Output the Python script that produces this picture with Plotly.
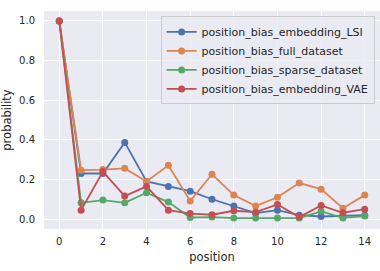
import plotly.graph_objects as go

positions = list(range(15))
lsi = [1.0, 0.23, 0.23, 0.387, 0.19, 0.165, 0.141, 0.10, 0.066, 0.03, 0.045, 0.02, 0.013, 0.015, 0.02]
full = [1.0, 0.247, 0.25, 0.256, 0.19, 0.272, 0.091, 0.226, 0.121, 0.066, 0.11, 0.182, 0.151, 0.055, 0.121]
sparse = [1.0, 0.082, 0.096, 0.082, 0.133, 0.086, 0.008, 0.01, 0.005, 0.005, 0.005, 0.005, 0.039, 0.006, 0.015]
vae = [1.0, 0.045, 0.24, 0.116, 0.165, 0.045, 0.028, 0.022, 0.042, 0.035, 0.074, 0.01, 0.069, 0.032, 0.05]

names = ["position_bias_embedding_LSI", "position_bias_full_dataset",
         "position_bias_sparse_dataset", "position_bias_embedding_VAE"]
colors = ["#4c72b0", "#dd8452", "#55a868", "#c44e52"]

fig = go.Figure()
for name, vals, c in zip(names, [lsi, full, sparse, vae], colors):
    fig.add_trace(go.Scatter(x=positions, y=vals, mode="lines+markers", name=name,
                             line=dict(color=c, width=1.8),
                             marker=dict(color=c, size=7)))

fig.update_layout(
    width=380, height=271,
    margin=dict(l=44, r=0, t=11, b=42, autoexpand=False),
    paper_bgcolor="white", plot_bgcolor="#eaeaf2",
    font=dict(family="DejaVu Sans", size=10, color="#262626"),
    showlegend=True,
    legend=dict(x=0.984, y=0.975, xanchor="right", yanchor="top",
                bgcolor="rgba(234,234,242,0.8)", bordercolor="#cccccc", borderwidth=1,
                font=dict(size=11), itemwidth=30, tracegroupgap=0),
)
fig.update_xaxes(range=[-0.7, 14.7], tickvals=list(range(0, 15, 2)), showgrid=True,
                 gridcolor="white", gridwidth=1, zeroline=False, showline=False,
                 ticks="", ticklabelstandoff=5,
                 title=dict(text="position", font=dict(size=11.5), standoff=6))
fig.update_yaxes(range=[-0.05, 1.05], tickvals=[0, 0.2, 0.4, 0.6, 0.8, 1.0], tickformat=".1f",
                 showgrid=True, gridcolor="white", gridwidth=1, zeroline=False, showline=False,
                 ticks="", ticklabelstandoff=8,
                 title=dict(text="probability", font=dict(size=11.5), standoff=6))

fig.write_html("out.html", config={"displayModeBar": False},
               post_script="document.body.style.margin='0';document.body.style.overflow='hidden';")
